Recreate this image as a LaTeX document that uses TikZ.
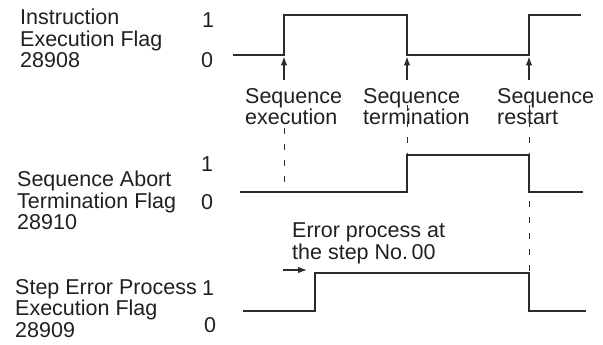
\documentclass[tikz,border=0pt]{standalone}
\usepackage{fontspec}
\setmainfont{Liberation Sans}
\usetikzlibrary{arrows.meta}

\begin{document}
\begin{tikzpicture}[x=1pt,y=-1pt,
  etich/.style={anchor=north west, inner sep=0pt, align=left, text=colTesto,
    font=\fontsize{21.5}{21.5}\selectfont},
  livello/.style={anchor=base, inner sep=0pt, text=colTesto,
    font=\fontsize{21.5}{21.5}\selectfont},
  segnale/.style={draw=colLinea, line width=1.3pt},
  guida/.style={draw=colLinea, line width=1pt, dash pattern=on 6pt off 10pt},
  freccia/.style={draw=colLinea, line width=1.1pt, -{Latex[length=9pt,width=6.5pt]}}]

% Colori
\definecolor{colTesto}{HTML}{231F20}
\definecolor{colLinea}{HTML}{2B2B2B}

\useasboundingbox (0,0) rectangle (603,345);

% Nomi dei flag
\node[etich] (nomeIEF) at (20,9) {Instruction\\Execution Flag\\28908};
\node[etich] (nomeSAT) at (17,171) {Sequence Abort\\Termination Flag\\28910};
\node[etich] (nomeSEP) at (15,279) {Step Error Process\\Execution Flag\\28909};

% Livelli 1 / 0
\node[livello] (uno1) at (208,28) {1};
\node[livello] (zero1) at (207,67) {0};
\node[livello] (uno2) at (207,171) {1};
\node[livello] (zero2) at (207,209) {0};
\node[livello] (uno3) at (208,295) {1};
\node[livello] (zero3) at (210,332) {0};

% Instruction Execution Flag
\coordinate (iefA) at (284,55);
\coordinate (iefB) at (407,55);
\coordinate (iefC) at (529,55);
\draw[segnale] (233,55) -- (iefA) -- (284,15) -- (407,15) -- (iefB) -- (iefC) -- (529,15) -- (581,15);

% Sequence Abort Termination Flag
\coordinate (satA) at (407,155);
\coordinate (satB) at (529,155);
\draw[segnale] (240,192) -- (407,192) -- (satA) -- (satB) -- (529,192) -- (583,192);

% Step Error Process Execution Flag
\coordinate (sepA) at (315,273);
\coordinate (sepB) at (529,273);
\draw[segnale] (243,311) -- (315,311) -- (sepA) -- (sepB) -- (529,311) -- (586,311);

% Eventi
\node[etich] (evEsec) at (245,88) {Sequence\\execution};
\node[etich] (evTerm) at (363,88) {Sequence\\termination};
\node[etich] (evRip) at (497,88) {Sequence\\restart};

\coordinate (codaA) at (284,80);
\coordinate (codaB) at (407,80);
\coordinate (codaC) at (529,80);
\draw[freccia, shorten >=1.5pt] (codaA) -- (iefA);
\draw[freccia, shorten >=1.5pt] (codaB) -- (iefB);
\draw[freccia, shorten >=1.5pt] (codaC) -- (iefC);

% Linee tratteggiate
\coordinate (tratA) at (284,128);
\coordinate (tratB) at (407,105);
\coordinate (tratC) at (529,105);
\draw[guida] (tratA) -- (284,186);
\draw[guida] (tratB) -- (satA);
\draw[guida] (tratC) -- (sepB);

% Errore al passo 00
\node[etich] (errNota) at (292,223) {Error process at\\the step No.\,00};
\coordinate (errCoda) at (283,270);
\coordinate (errPunta) at (307,270);
\draw[freccia] (errCoda) -- (errPunta);

\end{tikzpicture}
\end{document}
